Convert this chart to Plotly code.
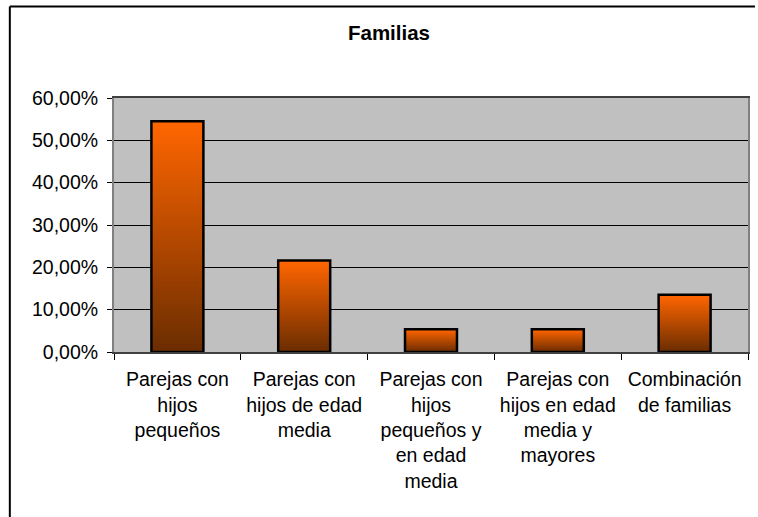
import plotly.graph_objects as go

# Datos
categorias = [
    "Parejas con<br>hijos<br>pequeños",
    "Parejas con<br>hijos de edad<br>media",
    "Parejas con<br>hijos<br>pequeños y<br>en edad<br>media",
    "Parejas con<br>hijos en edad<br>media y<br>mayores",
    "Combinación<br>de familias",
]
porcentajes = [0.545, 0.216, 0.054, 0.054, 0.135]
ticks_y = [0, 0.1, 0.2, 0.3, 0.4, 0.5, 0.6]

W, H = 758, 517
ML, MR, MT, MB = 114, 8, 98, 165

FONT = "Liberation Sans, Arial, sans-serif"
TOP = (255, 102, 0)      # naranja en la parte superior
BOTTOM = (108, 45, 0)    # marrón oscuro en la base
N = 60

fig = go.Figure()

# Degradado vertical: cada franja va desde su base hasta el valor de la barra,
# dibujadas de abajo hacia arriba para que no queden costuras.
for i in range(N):
    t = i / (N - 1)
    c = tuple(round(BOTTOM[k] + (TOP[k] - BOTTOM[k]) * t) for k in range(3))
    fig.add_trace(go.Bar(
        x=categorias,
        y=[v * (1 - i / N) for v in porcentajes],
        base=[v * i / N for v in porcentajes],
        marker=dict(color="rgb(%d,%d,%d)" % c, line=dict(width=0)),
        hoverinfo="skip",
        showlegend=False,
    ))

# Contorno de las barras
fig.add_trace(go.Bar(
    x=categorias,
    y=porcentajes,
    marker=dict(color="rgba(0,0,0,0)", line=dict(color="black", width=2.5)),
    showlegend=False,
))

def px_x(p):
    return (p - ML) / (W - ML - MR)

def px_y(p):
    return 1 - (p - MT) / (H - MT - MB)

# Marco exterior del gráfico (bordes superior e izquierdo)
fig.add_shape(type="line", xref="paper", yref="paper",
              x0=px_x(9.5), x1=px_x(W - 1), y0=px_y(6.5), y1=px_y(6.5),
              line=dict(color="black", width=2), layer="above")
fig.add_shape(type="line", xref="paper", yref="paper",
              x0=px_x(9.5), x1=px_x(9.5), y0=px_y(6.5), y1=px_y(H),
              line=dict(color="black", width=2), layer="above")

fig.update_layout(
    width=W, height=H,
    margin=dict(l=ML, r=MR, t=MT, b=MB),
    paper_bgcolor="white",
    plot_bgcolor="#C0C0C0",
    barmode="overlay",
    bargap=0.59,
    separators=",.",
    font=dict(family=FONT, size=19.5, color="black"),
    title=dict(text="<b>Familias</b>", x=389 / W, xref="container", xanchor="center",
               y=1 - 33 / H, yanchor="middle",
               font=dict(family=FONT, size=20.5, color="black")),
)

fig.update_yaxes(
    range=[0, 0.6],
    tickvals=ticks_y,
    tickformat=".2%",
    showgrid=True, gridcolor="black", gridwidth=1,
    showline=True, linecolor="#808080", linewidth=2, mirror=True,
    ticks="outside", ticklen=5, tickcolor="black", tickwidth=1,
    ticklabelstandoff=5,
    zeroline=False,
    tickfont=dict(family=FONT, size=19.5),
)
fig.update_xaxes(
    showline=True, linecolor="#404040", linewidth=1.5, mirror=True,
    ticks="outside", ticklen=6, tickcolor="black", tickwidth=1,
    tickson="boundaries",
    ticklabelstandoff=9,
    showgrid=False,
    tickangle=0,
    tickfont=dict(family=FONT, size=19.5),
)

fig.write_html("out.html")
